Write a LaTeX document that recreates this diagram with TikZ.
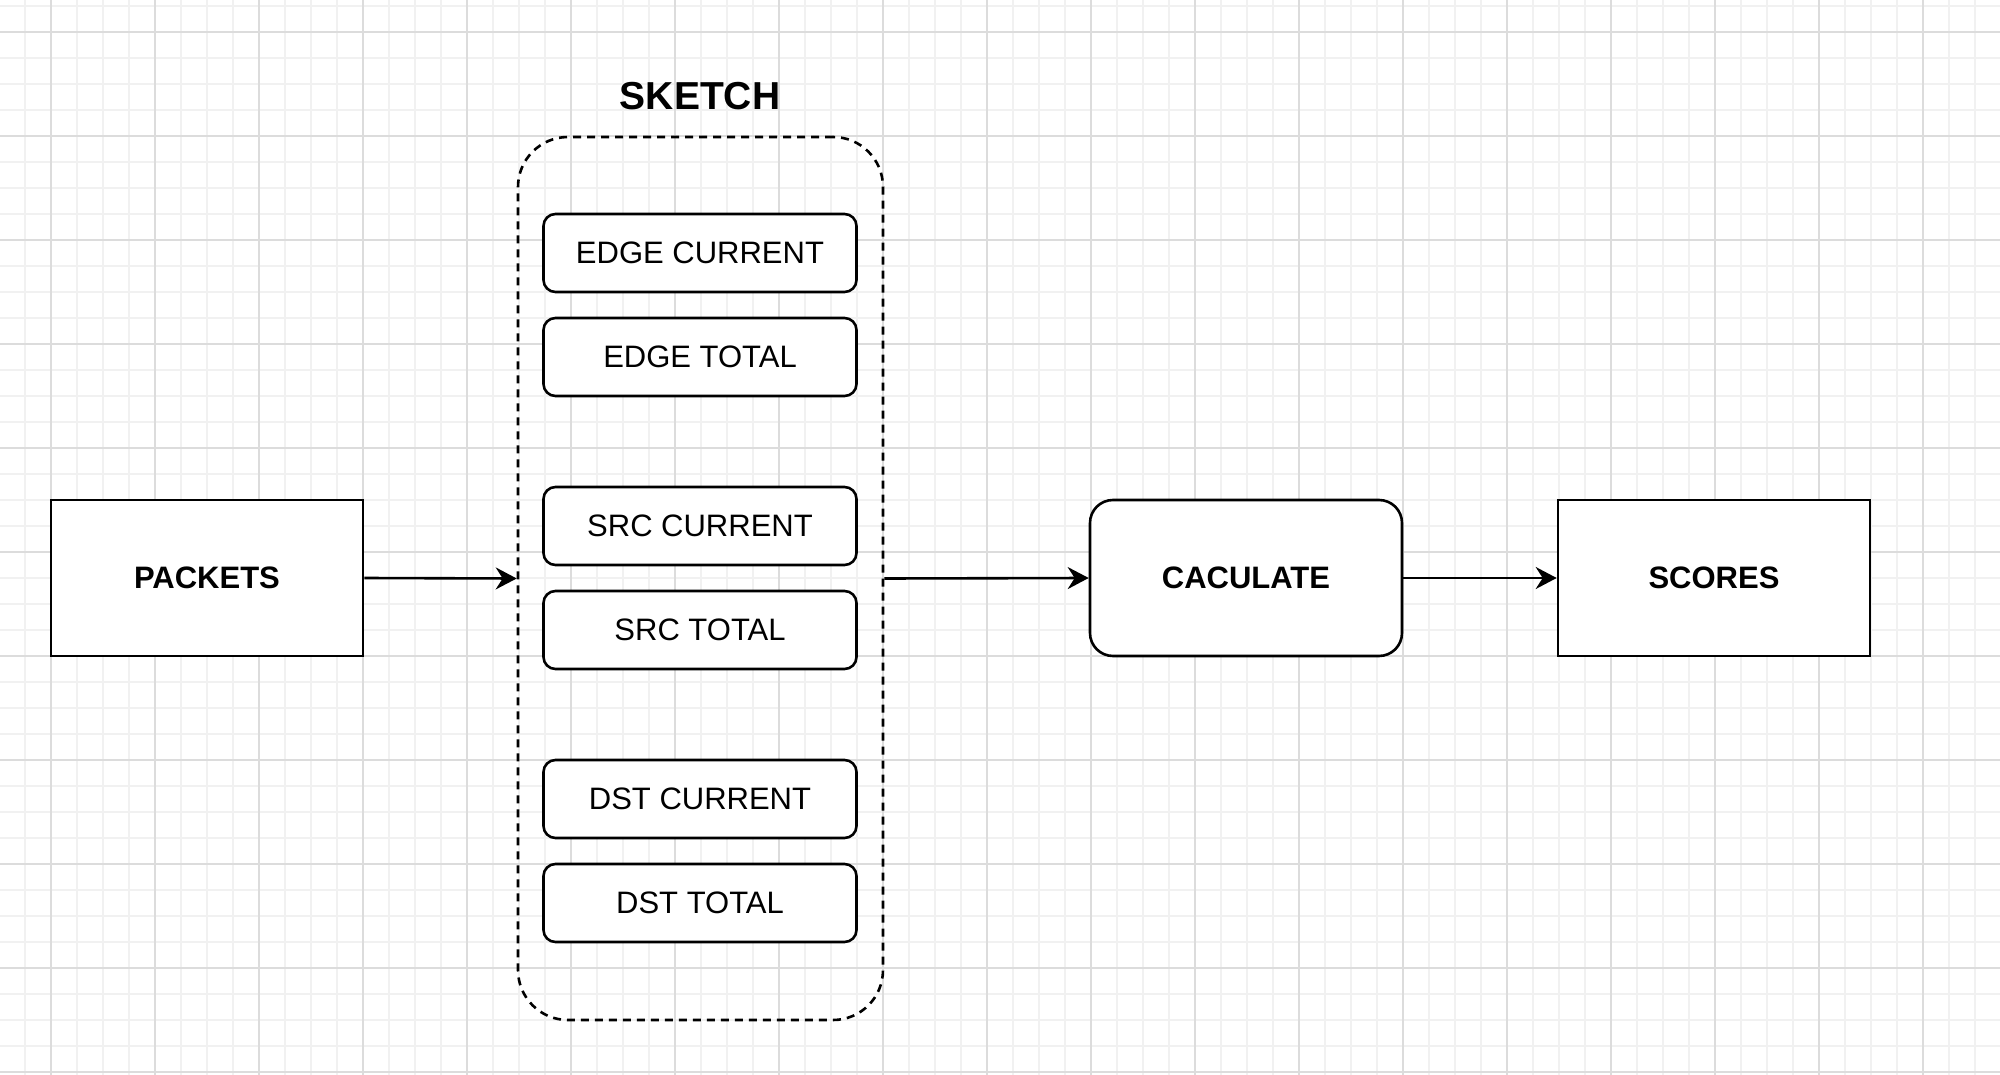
\documentclass[tikz,border=0pt]{standalone}
\usepackage{fontspec}
\setmainfont{Liberation Sans}
\usetikzlibrary{arrows.meta}
\definecolor{gridminor}{HTML}{F1F1F1}
\definecolor{gridmajor}{HTML}{DCDCDC}
\tikzset{
  plainbox/.style={draw=black, line width=2.6pt, fill=white, minimum width=312pt, minimum height=156pt, inner sep=0pt, font=\fontsize{31}{36}\selectfont\bfseries},
  calcbox/.style={plainbox, rounded corners=23pt},
  itembox/.style={draw=black, line width=2.6pt, fill=white, rounded corners=12pt, minimum width=313pt, minimum height=78pt, inner sep=0pt, font=\fontsize{31}{36}\selectfont},
  sketchbox/.style={draw=black, line width=2.6pt, dash pattern=on 8pt off 6pt, rounded corners=50pt, minimum width=365pt, minimum height=883pt, inner sep=0pt},
  conn/.style={line width=2.6pt, -{Stealth[length=21pt, width=22pt, inset=7pt]}}
}
\begin{document}
\begin{tikzpicture}[x=1pt, y=-1pt]
\useasboundingbox (0,0) rectangle (2000,1075);
\fill[white] (0,0) rectangle (2000,1075);
% grid
\foreach \x in {25,51,...,2000} \draw[gridminor, line width=1.5pt] (\x,0) -- (\x,1075);
\foreach \y in {6,32,...,1075} \draw[gridminor, line width=1.5pt] (0,\y) -- (2000,\y);
\foreach \x in {51,155,...,2000} \draw[gridmajor, line width=1.5pt] (\x,0) -- (\x,1075);
\foreach \y in {32,136,...,1075} \draw[gridmajor, line width=1.5pt] (0,\y) -- (2000,\y);
% nodes
\node[plainbox] (packets) at (207,578) {PACKETS};
\node[sketchbox] (sketch) at (700.5,578.5) {};
\node[font=\fontsize{39}{44}\selectfont\bfseries] (title) at (700,96) {SKETCH};
\node[itembox] (ec) at (700,253) {EDGE CURRENT};
\node[itembox] (et) at (700,357) {EDGE TOTAL};
\node[itembox] (sc) at (700,526) {SRC CURRENT};
\node[itembox] (st) at (700,630) {SRC TOTAL};
\node[itembox] (dc) at (700,799) {DST CURRENT};
\node[itembox] (dt) at (700,903) {DST TOTAL};
\node[calcbox] (calc) at (1246,578) {CACULATE};
\node[plainbox] (scores) at (1714,578) {SCORES};
% connectors
\draw[conn] (packets.east) -- (sketch.west);
\draw[conn] (sketch.east) -- (calc.west);
\draw[conn] (calc.east) -- (scores.west);
\end{tikzpicture}
\end{document}
